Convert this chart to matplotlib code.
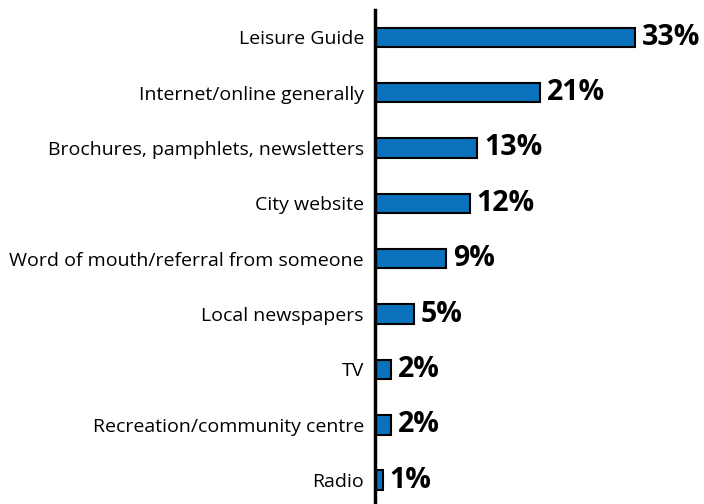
import matplotlib.pyplot as plt

# Where people hear about recreation programs
sources = [
    "Leisure Guide",
    "Internet/online generally",
    "Brochures, pamphlets, newsletters",
    "City website",
    "Word of mouth/referral from someone",
    "Local newspapers",
    "TV",
    "Recreation/community centre",
    "Radio",
]
shares = [33, 21, 13, 12, 9, 5, 2, 2, 1]

plt.rcParams['font.family'] = ['Open Sans', 'DejaVu Sans']

fig = plt.figure(figsize=(7.04, 5.04), dpi=100)
ax = fig.add_axes([0.5327, 0.0, 0.4673, 0.980])

ypos = list(range(len(sources)))
ax.barh(ypos, shares, height=0.35, color="#0a72bd", edgecolor="black", linewidth=1.5)

for y, v in zip(ypos, shares):
    ax.text(v + 0.85, y, f"{v}%", va="center", ha="left", fontsize=20.5, fontweight="bold")

ax.set_yticks(ypos)
ax.set_yticklabels(sources, fontsize=14)
ax.tick_params(axis="y", length=0, pad=8)
ax.set_xticks([])
ax.set_xlim(0, 41.75)
ax.set_ylim(8.43, -0.49)

for side in ["top", "right", "bottom"]:
    ax.spines[side].set_visible(False)
ax.spines["left"].set_linewidth(2.5)

fig.savefig("out.png", dpi=100)
